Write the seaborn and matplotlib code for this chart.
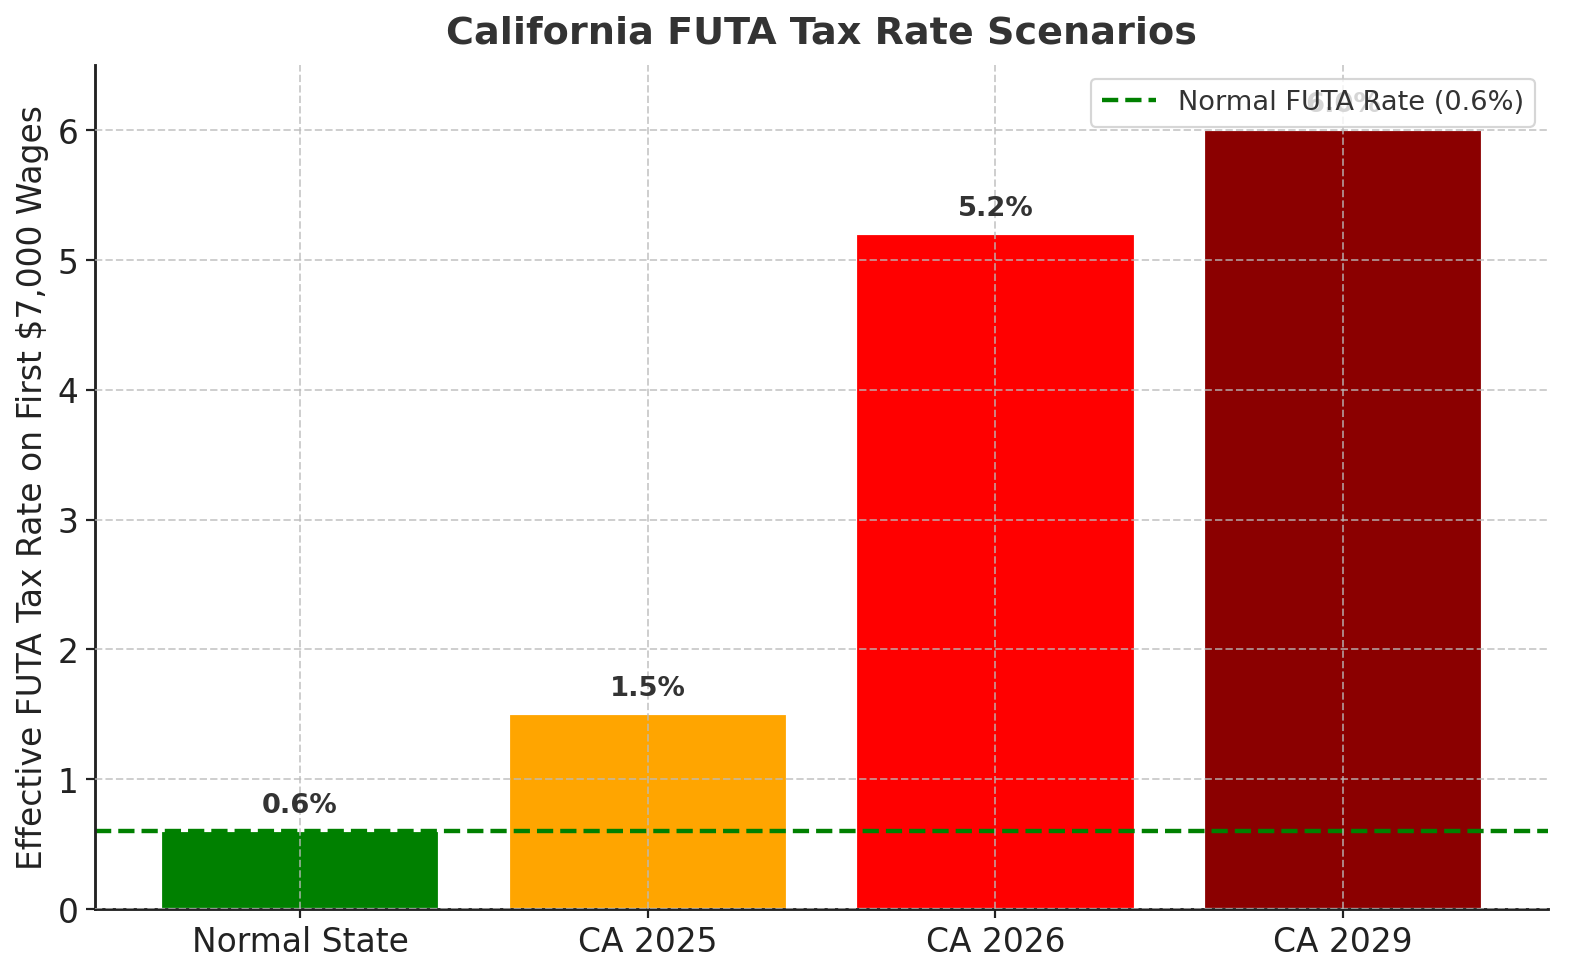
import matplotlib
matplotlib.use("Agg")
import matplotlib.pyplot as plt
import seaborn as sns
import pandas as pd

# data
scenarios = ["Normal State", "CA 2025", "CA 2026", "CA 2029"]
rates = [0.6, 1.5, 5.2, 6.0]
bar_colors = ["green", "orange", "red", "darkred"]
normal_rate = 0.6

sns.set_style("ticks")
plt.rcParams["font.family"] = ["DejaVu Sans"]

df = pd.DataFrame({"Scenario": scenarios, "Rate": rates})

fig = plt.figure(figsize=(10, 6.2), dpi=158)
ax = fig.add_axes([0.060, 0.0714, 0.920, 0.8613])

sns.barplot(data=df, x="Scenario", y="Rate", hue="Scenario",
            palette=bar_colors, saturation=1, width=0.8, legend=False, ax=ax)

ax.axhline(normal_rate, color="green", linestyle="--", linewidth=2,
           label=f"Normal FUTA Rate ({normal_rate}%)")

# value labels above bars
for i, v in enumerate(rates):
    ax.text(i, v + 0.1, f"{v:.1f}%", ha="center", va="bottom",
            fontsize=12.5, fontweight="bold", color="#333333")

ax.set_ylim(0, 6.5)
ax.set_xlim(-0.59, 3.59)
ax.set_title("California FUTA Tax Rate Scenarios", fontsize=17.4,
             fontweight="bold", color="#333333", pad=10)
ax.set_xlabel("")
ax.set_ylabel("Effective FUTA Tax Rate on First \\$7,000 Wages", fontsize=15,
              color="#222222")
ax.tick_params(axis="both", labelsize=15, colors="#222222", length=4, width=1)

ax.set_axisbelow(False)
ax.grid(True, linestyle="--", color="#bbbbbb", alpha=0.7, linewidth=0.9)

sns.despine(ax=ax)
for s in ["left", "bottom"]:
    ax.spines[s].set_linewidth(1.3)
    ax.spines[s].set_color("#222222")

leg = ax.legend(loc="upper right", fontsize=12.4, frameon=True)
for t in leg.get_texts():
    t.set_color("#333333")

fig.savefig("out.png", dpi=158)
